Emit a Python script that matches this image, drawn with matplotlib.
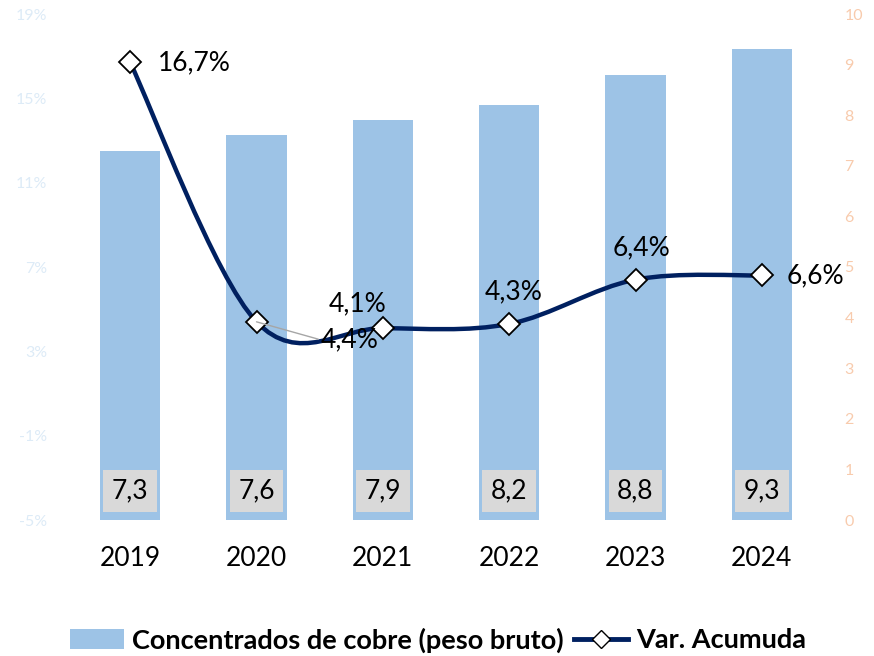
import matplotlib
matplotlib.use("Agg")
import matplotlib.pyplot as plt
from matplotlib.path import Path
from matplotlib.patches import PathPatch, Patch
from matplotlib.lines import Line2D
from matplotlib.ticker import FuncFormatter

plt.rcParams['font.family'] = ['Lato', 'DejaVu Sans']

years = ['2019', '2020', '2021', '2022', '2023', '2024']
volumes = [7.3, 7.6, 7.9, 8.2, 8.8, 9.3]
var_acum = [16.7, 4.4, 4.1, 4.3, 6.4, 6.6]
vol_labels = ['7,3', '7,6', '7,9', '8,2', '8,8', '9,3']
var_labels = ['16,7%', '4,4%', '4,1%', '4,3%', '6,4%', '6,6%']

bar_color = '#9DC3E6'
line_color = '#002060'
left_tick_color = '#DDEBF7'
right_tick_color = '#F8CBAD'

fig = plt.figure(figsize=(8.74, 6.56), dpi=100)
ax = fig.add_axes([67/874, 1-520/656, (825-67)/874, (520-14)/656])
ax2 = ax.twinx()

x = list(range(len(years)))

# bars on right axis
ax2.bar(x, volumes, width=0.48, color=bar_color, zorder=1)
ax2.set_ylim(0, 10)
ax2.set_yticks(range(0, 11))
for i, lab in enumerate(vol_labels):
    ax2.text(i, 0.57, lab, ha='center', va='center', fontsize=19, color='black',
             bbox=dict(facecolor='#D9D9D9', edgecolor='none', boxstyle='square,pad=0.32'))

# line on left axis (smoothed with Catmull-Rom style Bezier)
ax.set_ylim(-5, 19)
ax.set_yticks(range(-5, 20, 4))
ax.yaxis.set_major_formatter(FuncFormatter(lambda v, p: f'{int(v)}%'))
ax.set_xlim(-0.5, len(years) - 0.5)

pts = list(zip(x, var_acum))
verts = [pts[0]]
codes = [Path.MOVETO]
n = len(pts)
for i in range(n - 1):
    p0 = pts[i - 1] if i > 0 else pts[i]
    p1 = pts[i]
    p2 = pts[i + 1]
    p3 = pts[i + 2] if i + 2 < n else pts[i + 1]
    c1 = (p1[0] + (p2[0] - p0[0]) / 6, p1[1] + (p2[1] - p0[1]) / 6)
    c2 = (p2[0] - (p3[0] - p1[0]) / 6, p2[1] - (p3[1] - p1[1]) / 6)
    verts += [c1, c2, p2]
    codes += [Path.CURVE4] * 3
ax.add_patch(PathPatch(Path(verts, codes), facecolor='none', edgecolor=line_color,
                       lw=3.2, zorder=3, capstyle='round'))
ax.plot(x, var_acum, linestyle='none', marker='D', markersize=11,
        markerfacecolor='white', markeredgecolor='black', markeredgewidth=1.3, zorder=4)

ax.set_zorder(ax2.get_zorder() + 1)
ax.patch.set_visible(False)

# line labels
offsets = {0: (28, 0, 'left'), 2: (-25, 24, 'center'), 3: (4, 32, 'center'),
           4: (6, 32, 'center'), 5: (25, 0, 'left')}
for i, lab in enumerate(var_labels):
    if i == 1:
        ax.annotate(lab, xy=(i, var_acum[i]), xytext=(1.74, 3.54), textcoords='data',
                    ha='center', va='center', fontsize=19, zorder=5,
                    arrowprops=dict(arrowstyle='-', color='#A6A6A6', lw=1,
                                    shrinkA=0, shrinkB=0, relpos=(0, 0.5)))
    else:
        dx, dy, ha = offsets[i]
        ax.annotate(lab, xy=(i, var_acum[i]), xytext=(dx, dy), textcoords='offset pixels',
                    ha=ha, va='center', fontsize=19, zorder=5)

ax.set_xticks(x)
ax.set_xticklabels(years, fontsize=19)
ax.tick_params(axis='x', length=0, pad=19)
ax.tick_params(axis='y', length=0, labelsize=11.5, labelcolor=left_tick_color, pad=14)
ax2.tick_params(axis='y', length=0, labelsize=11.5, labelcolor=right_tick_color, pad=14)
for a in (ax, ax2):
    for s in a.spines.values():
        s.set_visible(False)

handles = [Patch(facecolor=bar_color, edgecolor='none'),
           Line2D([0], [0], color=line_color, lw=3.5, marker='D', markersize=9.5,
                  markerfacecolor='white', markeredgecolor='black')]
fig.legend(handles, ['Concentrados de cobre (peso bruto)', 'Var. Acumuda'],
           loc='center', bbox_to_anchor=(438/874, 1-640/656), ncol=2, frameon=False,
           prop={'weight': 'bold', 'size': 19.5}, handlelength=2.0, handletextpad=0.3,
           columnspacing=0.35, handleheight=0.75)

fig.savefig('out.png', dpi=100)
